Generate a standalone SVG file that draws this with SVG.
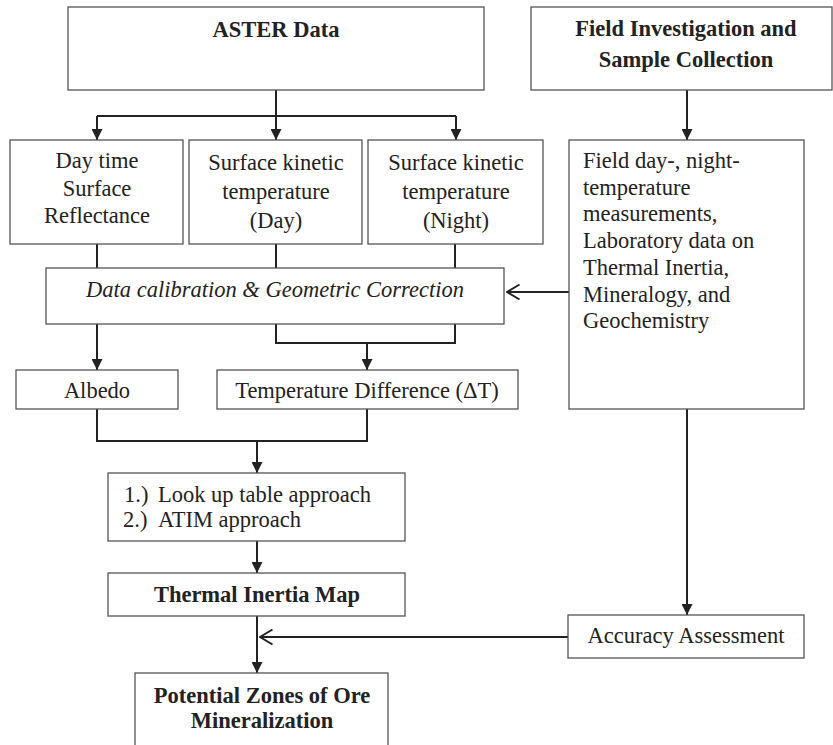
<svg xmlns="http://www.w3.org/2000/svg" width="833" height="745" viewBox="0 0 833 745">
<style>
.box{fill:#fff;stroke:#555;stroke-width:1.3}
.t{font-family:"Liberation Serif","Times New Roman",serif;font-size:22.5px;fill:#222}
.c{text-anchor:middle}
.b{font-weight:bold}
.i{font-style:italic}
.ln{fill:none;stroke:#222;stroke-width:2}
.arr{marker-end:url(#fa)}
.oarr{marker-end:url(#oa)}
</style>
<defs>
<marker id="fa" viewBox="0 0 10 10" refX="10" refY="5" markerWidth="11" markerHeight="11" markerUnits="userSpaceOnUse" orient="auto">
<path d="M0,0 L10,5 L0,10 z" fill="#222"/>
</marker>
<marker id="oa" viewBox="0 0 16 18" refX="14.5" refY="9" markerWidth="16" markerHeight="18" markerUnits="userSpaceOnUse" orient="auto">
<path d="M2,1.5 L14.5,9 L2,16.5" fill="none" stroke="#222" stroke-width="2"/>
</marker>
</defs>
<rect width="833" height="745" fill="#fff"/>
<g id="connectors">
<path class="ln arr" d="M276,90 V140"/>
<path class="ln" d="M97,116 H456"/>
<path class="ln arr" d="M97,116 V140"/>
<path class="ln arr" d="M456,116 V140"/>
<path class="ln arr" d="M687,90 V140"/>
<path class="ln" d="M97,244 V268 M276,244 V268 M455,244 V268"/>
<path class="ln oarr" d="M569,292 H507"/>
<path class="ln arr" d="M97,324 V370"/>
<path class="ln" d="M276,324 V343 H455 V324"/>
<path class="ln arr" d="M367,343 V370"/>
<path class="ln" d="M97,409 V441 H367 V409"/>
<path class="ln arr" d="M257,441 V473"/>
<path class="ln arr" d="M257,541 V573"/>
<path class="ln arr" d="M257,616 V673"/>
<path class="ln oarr" d="M568,637 H260"/>
<path class="ln arr" d="M687,409 V615"/>
</g>
<g id="aster">
<rect class="box" x="68" y="7" width="416" height="83"/>
<text class="t c b" x="276" y="37">ASTER Data</text>
</g>
<g id="field">
<rect class="box" x="531" y="7" width="301" height="83"/>
<text class="t c b" x="686" y="36">Field Investigation and</text>
<text class="t c b" x="686" y="67">Sample Collection</text>
</g>
<g id="reflectance">
<rect class="box" x="10" y="140" width="173" height="104"/>
<text class="t c" x="97" y="168">Day time</text>
<text class="t c" x="97" y="196">Surface</text>
<text class="t c" x="97" y="223">Reflectance</text>
</g>
<g id="tday">
<rect class="box" x="189" y="140" width="173" height="104"/>
<text class="t c" x="276" y="170">Surface kinetic</text>
<text class="t c" x="276" y="199">temperature</text>
<text class="t c" x="276" y="228">(Day)</text>
</g>
<g id="tnight">
<rect class="box" x="368" y="140" width="175" height="104"/>
<text class="t c" x="456" y="170">Surface kinetic</text>
<text class="t c" x="456" y="199">temperature</text>
<text class="t c" x="456" y="228">(Night)</text>
</g>
<g id="fielddata">
<rect class="box" x="569" y="140" width="235" height="269"/>
<text class="t" x="583" y="168">Field day-, night-</text>
<text class="t" x="583" y="195">temperature</text>
<text class="t" x="583" y="221">measurements,</text>
<text class="t" x="583" y="248">Laboratory data on</text>
<text class="t" x="583" y="275">Thermal Inertia,</text>
<text class="t" x="583" y="302">Mineralogy, and</text>
<text class="t" x="583" y="328">Geochemistry</text>
</g>
<g id="calib">
<rect class="box" x="46" y="268" width="458" height="56"/>
<text class="t c i" x="275" y="297">Data calibration &amp; Geometric Correction</text>
</g>
<g id="albedo">
<rect class="box" x="16" y="370" width="162" height="39"/>
<text class="t c" x="97" y="398">Albedo</text>
</g>
<g id="tempdiff">
<rect class="box" x="217" y="370" width="301" height="39"/>
<text class="t c" x="367" y="398">Temperature Difference (ΔT)</text>
</g>
<g id="lookup">
<rect class="box" x="108" y="473" width="297" height="68"/>
<text class="t" x="124" y="502">1.)</text>
<text class="t" x="158" y="502">Look up table approach</text>
<text class="t" x="123" y="527">2.)</text>
<text class="t" x="158" y="527">ATIM approach</text>
</g>
<g id="timap">
<rect class="box" x="108" y="573" width="297" height="43"/>
<text class="t c b" x="257" y="602">Thermal Inertia Map</text>
</g>
<g id="accuracy">
<rect class="box" x="568" y="615" width="236" height="43"/>
<text class="t c" x="686" y="643">Accuracy Assessment</text>
</g>
<g id="potential">
<rect class="box" x="135" y="673" width="253" height="90"/>
<text class="t c b" x="262" y="703">Potential Zones of Ore</text>
<text class="t c b" x="262" y="728">Mineralization</text>
</g>
</svg>
